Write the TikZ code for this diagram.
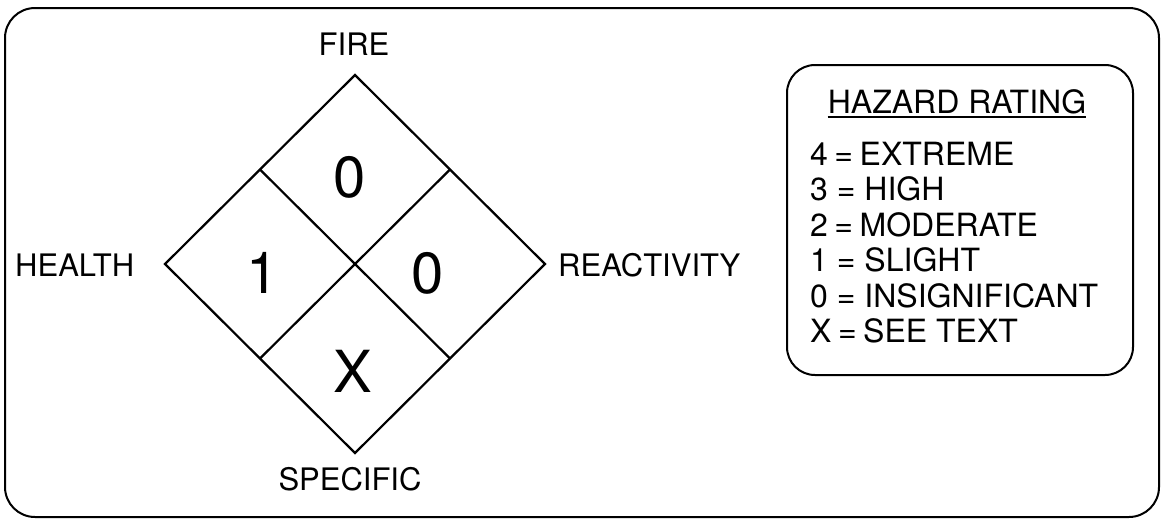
\documentclass[tikz,border=0pt]{standalone}
\usepackage{fontspec}
\setmainfont{TeX Gyre Heros}
\usetikzlibrary{calc}
\newcommand{\tsp}{\hspace{6.5pt}}
\begin{document}
\begin{tikzpicture}[x=1pt,y=-1pt,
  frame/.style={line width=2pt, rounded corners=30pt},
  legbox/.style={line width=2pt, rounded corners=28pt},
  diam/.style={line width=2.2pt, line join=miter},
  lab/.style={font=\fontsize{31}{31}\selectfont, inner sep=0pt, anchor=base},
  num/.style={font=\fontsize{58}{58}\selectfont, inner sep=0pt, anchor=base},
  leg/.style={font=\fontsize{32}{32}\selectfont, inner sep=0pt, anchor=base west}]
\useasboundingbox (0,0) rectangle (1162,520);
\draw[frame] (5,8) rectangle (1159,517);
% diamond
\coordinate (t) at (355,75);
\coordinate (r) at (545,264);
\coordinate (b) at (355,453);
\coordinate (l) at (165,264);
\coordinate (tl) at ($(t)!0.5!(l)$);
\coordinate (tr) at ($(t)!0.5!(r)$);
\coordinate (bl) at ($(b)!0.5!(l)$);
\coordinate (br) at ($(b)!0.5!(r)$);
\draw[diam] (t) -- (r) -- (b) -- (l) -- cycle;
\draw[diam] (tl) -- (br);
\draw[diam] (tr) -- (bl);
% labels
\node[lab] (fire) at (354,55) {FIRE};
\node[lab, anchor=base west] (health) at (15,276) {HEALTH};
\node[lab, anchor=base west] (react) at (558,276) {REACTIVITY};
\node[lab] (spec) at (350,490) {SPECIFIC};
% numbers
\node[num] (nf) at (350,197) {0};
\node[num] (nh) at (263,293) {1};
\node[num] (nr) at (428,293) {0};
\node[num] (ns) at (353,392) {X};
% legend
\draw[legbox] (787,65) rectangle (1133,375);
\node[leg, anchor=base] (title) at (957,113) {HAZARD RATING};
\draw[line width=1.5pt] ([yshift=-4pt]title.base west) -- ([yshift=-4pt]title.base east);
\node[leg] (l4) at (810,165) {4\tsp=\tsp EXTREME};
\node[leg] (l3) at (810,200.5) {3 = HIGH};
\node[leg] (l2) at (810,236) {2\tsp=\tsp MODERATE};
\node[leg] (l1) at (810,271.5) {1 = SLIGHT};
\node[leg] (l0) at (810,307) {0 = INSIGNIFICANT};
\node[leg] (lx) at (810,342.5) {X\tsp=\tsp SEE TEXT};
\end{tikzpicture}
\end{document}
